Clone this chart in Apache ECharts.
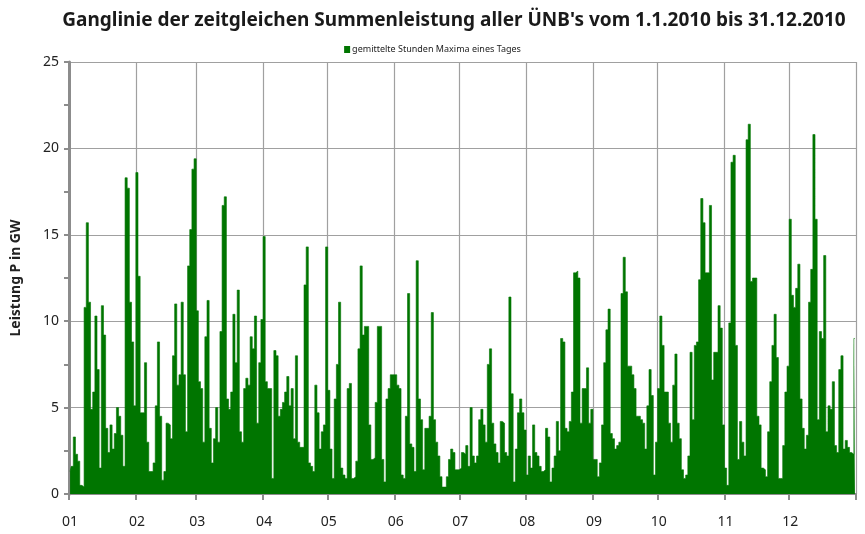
<!DOCTYPE html>
<html><head><meta charset="utf-8">
<script src="https://cdn.jsdelivr.net/npm/echarts@6/dist/echarts.min.js"></script>
<style>html,body{margin:0;padding:0;background:#fff}#c{width:865px;height:534px}</style>
</head><body><div id="c"></div>
<script>
const monthLabels = ['01','02','03','04','05','06','07','08','09','10','11','12'];
const jan = [1.3,1.6,3.3,2.3,1.9,0.5,0.4,10.8,15.7,11.1,4.9,5.9,10.3,7.2,1.5,10.9,9.2,3.8,2.4,4.0,2.6,3.5,5.0,4.5,3.4,1.6,18.3,17.7,11.1,8.8,5.1];
const feb = [18.6,12.6,4.7,4.7,7.6,3.0,1.3,1.3,1.8,5.1,8.8,4.5,0.8,1.3,4.1,4.0,3.2,8.0,11.0,6.3,6.9,11.1,6.9,3.6,13.2,15.3,18.8,19.4];
const mar = [10.6,6.5,6.1,3.0,9.1,11.2,3.8,1.8,3.2,5.0,3.0,9.4,16.7,17.2,5.5,4.9,5.9,10.4,7.6,11.8,3.6,3.0,6.1,6.7,6.3,9.1,8.4,10.3,4.1,7.6,10.1];
const apr = [14.9,6.5,6.1,6.1,0.9,8.3,8.0,4.5,4.9,5.3,5.9,6.8,5.1,6.1,3.2,8.0,3.0,2.7,2.7,12.1,14.3,1.8,1.6,1.3,6.3,4.7,2.6,3.6,4.0,14.3];
const may = [6.0,2.6,0.9,5.5,7.5,11.1,1.5,1.1,0.9,6.1,6.4,0.9,1.0,1.9,8.4,13.2,9.2,9.7,9.7,4.0,2.0,2.1,5.3,9.7,9.7,2.0,0.7,5.5,6.1,6.9,6.9];
const jun = [6.9,6.3,6.1,1.1,0.9,4.5,11.6,2.9,2.7,1.3,13.5,5.5,4.3,1.4,3.8,3.8,4.5,10.5,4.3,3.0,2.2,1.0,0.4,0.4,1.0,2.0,2.6,2.4,1.4,1.4];
const jul = [1.5,2.4,2.3,2.8,1.6,5.0,2.2,1.8,2.2,4.3,4.9,4.0,3.0,7.5,8.4,4.1,2.9,2.4,1.8,4.2,4.1,2.4,2.2,11.4,5.8,0.7,2.6,4.7,5.5,4.7,3.7];
const aug = [1.1,2.2,1.5,4.0,2.4,2.2,1.6,1.3,1.4,3.8,3.3,0.7,1.5,2.2,4.2,2.5,9.0,8.8,3.8,3.6,4.2,5.9,12.8,12.9,12.5,4.1,6.1,6.1,7.3,4.1,4.9];
const sep = [2.0,2.0,1.0,1.8,4.0,7.6,9.5,10.7,3.5,3.2,2.6,2.8,3.0,11.6,13.7,11.7,7.4,7.4,6.9,6.1,4.5,4.5,4.3,4.1,2.6,5.1,7.2,5.7,1.1,3.0];
const oct = [6.1,10.3,8.6,5.9,5.9,4.1,3.0,6.3,8.1,4.1,3.2,1.4,0.9,1.1,2.2,8.2,4.3,8.6,8.8,12.4,17.1,15.7,12.8,12.8,16.7,6.6,8.2,8.2,10.9,9.6,4.0];
const nov = [1.5,0.5,9.9,19.2,19.6,8.6,2.0,4.2,3.0,2.2,20.5,21.4,12.3,12.5,12.5,4.5,4.0,1.5,1.4,1.0,3.6,6.5,8.6,10.4,7.9,0.9,0.9,2.8,5.9,7.4];
const dec = [15.9,11.5,10.8,11.9,13.3,5.5,3.8,2.6,3.4,11.1,13.0,20.8,15.9,4.3,9.4,9.0,13.8,3.6,5.1,4.9,6.5,2.8,2.4,7.2,8.0,2.6,3.1,2.7,2.4,2.3,9.0];
const yTicks = [0,5,10,15,20,25];
const seriesName = 'gemittelte Stunden Maxima eines Tages';

const months = [jan,feb,mar,apr,may,jun,jul,aug,sep,oct,nov,dec];
const categories = [];
const values = [];
months.forEach((arr, m) => arr.forEach((v, i) => {
  categories.push(monthLabels[m] + '-' + String(i + 1).padStart(2, '0'));
  values.push(v);
}));
const isMonthStart = (idx, val) => String(val).slice(3) === '01';
const isInnerMonthStart = (idx, val) => idx > 0 && String(val).slice(3) === '01';
const green = '#007500';
const axisGray = '#8c8c8c';
const gridGray = '#a0a0a0';

const chart = echarts.init(document.getElementById('c'), null, {renderer: 'canvas'});
chart.setOption({
  animation: false,
  backgroundColor: '#fff',
  title: {
    text: "Ganglinie der zeitgleichen Summenleistung aller ÜNB's vom 1.1.2010 bis 31.12.2010",
    left: 449, top: 6, textAlign: 'center',
    textStyle: {fontFamily: 'Noto Sans', fontSize: 19, fontWeight: 'bold', color: '#1a1a1a'}
  },
  legend: {
    data: [{name: seriesName, icon: 'rect', itemStyle: {color: green}}], top: 40, left: 'center',
    itemWidth: 6, itemHeight: 7, itemGap: 4,
    textStyle: {fontFamily: 'Noto Sans', fontSize: 9, color: '#222', padding: [0,0,0,-3]}
  },
  grid: {left: 69, right: 9, top: 62, bottom: 40, containLabel: false},
  xAxis: {
    type: 'category',
    data: categories,
    boundaryGap: true,
    axisLine: {lineStyle: {color: axisGray, width: 2}},
    axisTick: {show: true, interval: isMonthStart, length: 6, lineStyle: {color: axisGray, width: 2}},
    axisLabel: {interval: isMonthStart, formatter: v => v.slice(0, 2), margin: 21,
      fontFamily: 'Noto Sans', fontSize: 14, color: '#222'},
    splitLine: {show: true, interval: isInnerMonthStart, lineStyle: {color: gridGray, width: 1.2}}
  },
  yAxis: {
    type: 'value', min: yTicks[0], max: yTicks[yTicks.length - 1], interval: 5,
    name: 'Leistung P in GW', nameLocation: 'middle', nameGap: 46,
    nameTextStyle: {fontFamily: 'Noto Sans', fontSize: 14, fontWeight: 'bold', color: '#222'},
    axisLine: {show: true, lineStyle: {color: axisGray, width: 3}},
    axisTick: {show: true, length: 5, lineStyle: {color: axisGray, width: 2}},
    minorTick: {show: true, splitNumber: 2, length: 5, lineStyle: {color: axisGray, width: 2}},
    axisLabel: {fontFamily: 'Noto Sans', fontSize: 14, color: '#222', margin: 10},
    splitLine: {show: true, lineStyle: {color: gridGray, width: 1.2}}
  },
  series: [{
    name: seriesName,
    type: 'line',
    step: 'middle',
    data: values,
    showSymbol: false,
    lineStyle: {color: green, width: 0.6},
    itemStyle: {color: green},
    areaStyle: {color: green, opacity: 1}
  }]
});
</script></body></html>
